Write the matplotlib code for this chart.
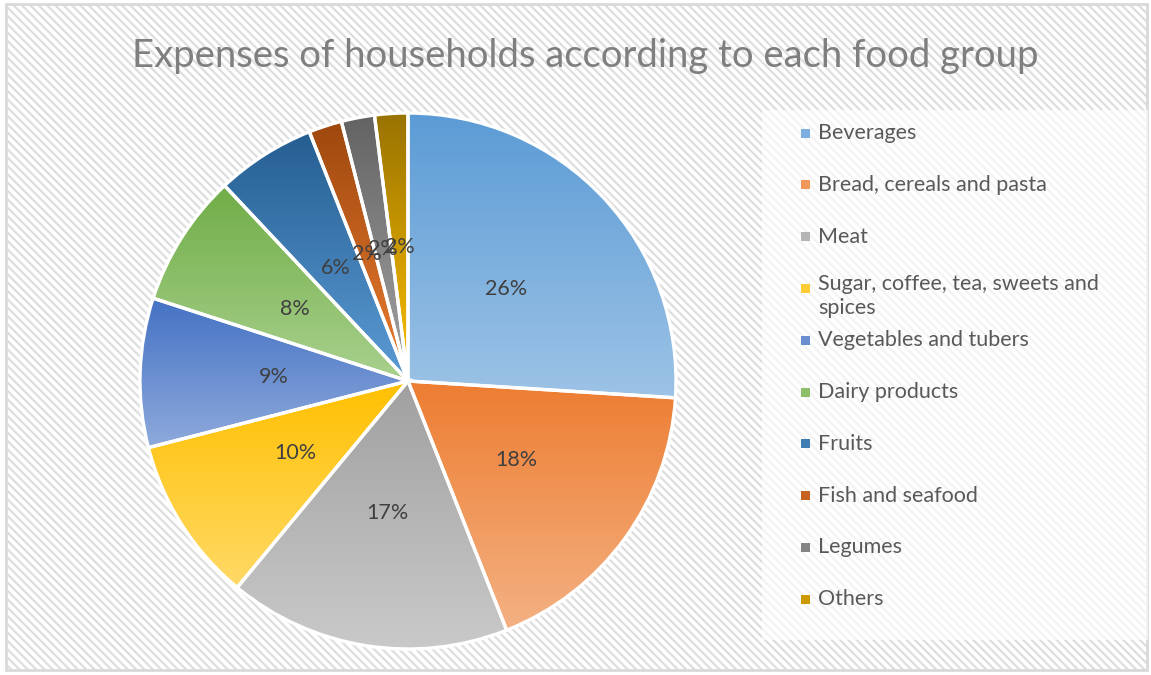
import numpy as np
import matplotlib
matplotlib.use("Agg")
import matplotlib.pyplot as plt
import matplotlib.colors as mcolors
import matplotlib.patches as mpatches

plt.rcParams['font.family'] = ['Lato', 'DejaVu Sans']
plt.rcParams['hatch.linewidth'] = 1.6

# data
categories = [
    "Beverages",
    "Bread, cereals and pasta",
    "Meat",
    "Sugar, coffee, tea, sweets and\nspices",
    "Vegetables and tubers",
    "Dairy products",
    "Fruits",
    "Fish and seafood",
    "Legumes",
    "Others",
]
shares = [26, 18, 17, 10, 9, 8, 6, 2, 2, 2]

# gradient colours: top (dark) -> bottom (light)
top_colors = ["#5B9BD5", "#ED7D31", "#A0A0A0", "#FFC000", "#4472C4",
              "#70AD47", "#255E91", "#9E480E", "#636363", "#997300"]
bottom_colors = ["#9DC3E6", "#F4B183", "#C9C9C9", "#FFD966", "#8FAADC",
                 "#A9D18E", "#5B9BD5", "#ED7D31", "#A5A5A5", "#FFC000"]

W, H = 1151, 675
fig = plt.figure(figsize=(W / 100, H / 100), dpi=100)
fig.patch.set_facecolor("white")

# hatched chart background + frame
bg = mpatches.Rectangle((6 / W, 5 / H), (W - 10) / W, (H - 9) / H,
                        transform=fig.transFigure, facecolor="white",
                        edgecolor="#dedede", hatch="\\\\\\\\", linewidth=0,
                        zorder=-3)
fig.patches.append(bg)
frame = mpatches.Rectangle((6 / W, 5 / H), (W - 10) / W, (H - 9) / H,
                           transform=fig.transFigure, facecolor="none",
                           edgecolor="#d9d9d9", linewidth=2, zorder=-2)
fig.patches.append(frame)

# legend box (lighter)
leg_box = mpatches.Rectangle((762 / W, 1 - 640 / H), (1148 - 762) / W, (640 - 110) / H,
                             transform=fig.transFigure, facecolor="white",
                             edgecolor="none", alpha=0.65, zorder=-2)
fig.patches.append(leg_box)

fig.text(585 / W, 1 - 56 / H, "Expenses of households according to each food group",
         ha="center", va="center", fontsize=27.5, color="#7f7f7f")

# pie axes
cx, cy, r = 408, 381, 268
lim = 1.05
size = 2 * lim * r
ax = fig.add_axes([(cx - lim * r) / W, (H - cy - lim * r) / H, size / W, size / H])
ax.patch.set_visible(False)

wedges, texts, autotexts = ax.pie(
    shares, colors=top_colors, startangle=90, counterclock=False,
    autopct=lambda p: f"{p:.0f}%", pctdistance=0.5, radius=1.0,
    wedgeprops=dict(edgecolor="white", linewidth=2.4),
    textprops=dict(fontsize=15.5, color="#404040"))

grad = np.linspace(0, 1, 256).reshape(-1, 1)
for w, c0, c1 in zip(wedges, top_colors, bottom_colors):
    ext = w.get_path().get_extents(w.get_patch_transform())
    cmap = mcolors.LinearSegmentedColormap.from_list("g", [c0, c1])
    im = ax.imshow(grad, cmap=cmap, aspect="auto", origin="upper",
                   extent=[ext.x0, ext.x1, ext.y0, ext.y1], zorder=1,
                   interpolation="bilinear")
    im.set_clip_path(w)
    w.set_facecolor("none")
    w.set_zorder(2)
for t in autotexts:
    t.set_zorder(3)
ax.set_xlim(-lim, lim)
ax.set_ylim(-lim, lim)
ax.set_aspect("equal")
ax.axis("off")

# legend
y0, dy = 133, 51.8
for i, (lab, c0, c1) in enumerate(zip(categories, top_colors, bottom_colors)):
    y = y0 + i * dy
    mid = tuple((np.array(mcolors.to_rgb(c0)) + np.array(mcolors.to_rgb(c1))) / 2)
    sq = mpatches.Rectangle((801 / W, 1 - (y + 4.5) / H), 9 / W, 9 / H,
                            transform=fig.transFigure, facecolor=mid,
                            edgecolor="none", zorder=3)
    fig.patches.append(sq)
    if "\n" in lab:
        fig.text(818 / W, 1 - (y - 14) / H, lab, ha="left", va="top",
                 fontsize=15.5, color="#595959", linespacing=1.25)
    else:
        fig.text(818 / W, 1 - y / H, lab, ha="left", va="center",
                 fontsize=15.5, color="#595959")

fig.savefig("out.png", dpi=100)
